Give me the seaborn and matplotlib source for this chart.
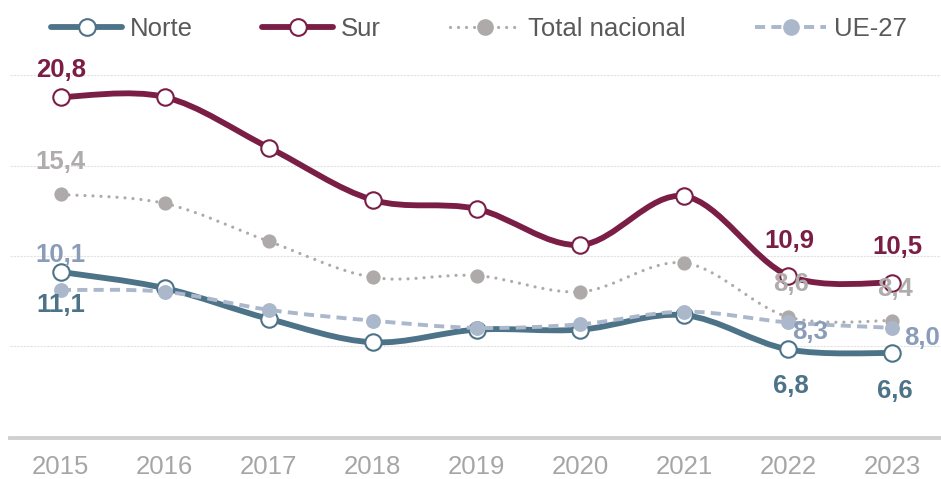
import numpy as np
import matplotlib
matplotlib.use("Agg")
import matplotlib.pyplot as plt
import seaborn as sns
from matplotlib.path import Path
from matplotlib.patches import PathPatch
from matplotlib.lines import Line2D

# ---------------- data ----------------
years = ["2015", "2016", "2017", "2018", "2019", "2020", "2021", "2022", "2023"]
norte = [11.1, 10.2, 8.5, 7.2, 7.9, 7.9, 8.7, 6.8, 6.6]
sur = [20.8, 20.8, 18.0, 15.1, 14.6, 12.6, 15.3, 10.9, 10.5]
total = [15.4, 14.9, 12.8, 10.8, 10.9, 10.0, 11.6, 8.6, 8.4]
ue27 = [10.1, 10.0, 9.0, 8.4, 8.0, 8.2, 8.9, 8.3, 8.0]
series_names = ["Norte", "Sur", "Total nacional", "UE-27"]

# ---------------- style ----------------
sns.set_theme(style="white")
plt.rcParams['font.family'] = ['Liberation Sans', 'DejaVu Sans']

C_NORTE = '#4d7389'
C_SUR = '#7a1e46'
C_TOTAL = '#aeaaaa'
C_UE = '#abb8cb'
C_UE_TXT = '#8a9cb8'
C_TOTAL_TXT = '#b0acac'
FS = 18.5

fig = plt.figure(figsize=(9.41, 4.79), dpi=100)
ax = fig.add_axes([10 / 941, 1 - 438 / 479, 931 / 941, (438 - 41) / 479])

x = np.arange(len(years))


def smooth_path(xs, ys):
    pts = np.column_stack([xs, ys]).astype(float)
    n = len(pts)
    verts = [pts[0]]
    codes = [Path.MOVETO]
    for i in range(n - 1):
        p0 = pts[i - 1] if i > 0 else pts[i]
        p1 = pts[i]
        p2 = pts[i + 1]
        p3 = pts[i + 2] if i + 2 < n else pts[i + 1]
        c1 = p1 + (p2 - p0) / 6.0
        c2 = p2 - (p3 - p1) / 6.0
        verts += [c1, c2, p2]
        codes += [Path.CURVE4] * 3
    return Path(verts, codes)


def draw_line(vals, color, lw, ls, z, cap='round'):
    patch = PathPatch(smooth_path(x, vals), fill=False, edgecolor=color,
                      lw=lw, linestyle=ls, zorder=z)
    patch.set_capstyle(cap)
    patch.set_joinstyle('round')
    ax.add_patch(patch)


# Norte
draw_line(norte, C_NORTE, 4.2, '-', 2)
sns.scatterplot(x=x, y=norte, ax=ax, s=140, color='white', edgecolor=C_NORTE,
                linewidth=1.5, zorder=2.5, legend=False)
# Sur
draw_line(sur, C_SUR, 4.2, '-', 3)
sns.scatterplot(x=x, y=sur, ax=ax, s=140, color='white', edgecolor=C_SUR,
                linewidth=1.5, zorder=3.5, legend=False)
# Total nacional
draw_line(total, C_TOTAL, 2.3, (0, (0.01, 2.5)), 4)
sns.scatterplot(x=x, y=total, ax=ax, s=105, color=C_TOTAL, edgecolor=C_TOTAL,
                linewidth=0, zorder=4.5, legend=False)
# UE-27
draw_line(ue27, C_UE, 2.8, (0, (2.6, 1.6)), 5, cap='butt')
sns.scatterplot(x=x, y=ue27, ax=ax, s=115, color=C_UE, edgecolor=C_UE,
                linewidth=0, zorder=5.5, legend=False)


def fmt(v):
    return f"{v:.1f}".replace('.', ',')


def label(i, vals, color, dx, dy):
    ax.annotate(fmt(vals[i]), xy=(i, vals[i]), xytext=(dx, dy),
                textcoords='offset pixels', ha='center', va='center',
                fontsize=FS, fontweight='bold', color=color, zorder=10)


label(0, sur, C_SUR, 0, 27)
label(0, total, C_TOTAL_TXT, 0, 32)
label(0, ue27, C_UE_TXT, 0, 35)
label(0, norte, C_NORTE, 0, -33)
label(7, sur, C_SUR, 1, 35)
label(8, sur, C_SUR, 5, 36)
label(7, total, C_TOTAL_TXT, 3, 33)
label(8, total, C_TOTAL_TXT, 3, 32)
label(7, ue27, C_UE_TXT, 22, -10)
label(8, ue27, C_UE_TXT, 30, -10)
label(7, norte, C_NORTE, 3, -37)
label(8, norte, C_NORTE, 3, -38)

# axes
ax.set_xlim(-0.49, 8.47)
ax.set_ylim(1.89, 23.91)
ax.set_yticks([7, 12, 17, 22])
ax.set_yticklabels([])
ax.grid(axis='y', color='#e2e2e2', lw=0.8, ls=(0, (2, 1)))
ax.grid(axis='x', visible=False)
ax.set_xticks(x)
ax.set_xticklabels(years)
ax.tick_params(axis='x', length=0, pad=12, labelsize=FS, labelcolor='#a6a6a6')
ax.tick_params(axis='y', length=0)
for s in ['top', 'left', 'right']:
    ax.spines[s].set_visible(False)
ax.spines['bottom'].set_color('#d0d0d0')
ax.spines['bottom'].set_linewidth(2.8)
ax.set_xlabel('')
ax.set_ylabel('')

# legend
handles = [
    Line2D([], [], color=C_NORTE, lw=4.2, marker='o', markersize=12,
           markerfacecolor='white', markeredgecolor=C_NORTE, markeredgewidth=1.5,
           solid_capstyle='round'),
    Line2D([], [], color=C_SUR, lw=4.2, marker='o', markersize=12,
           markerfacecolor='white', markeredgecolor=C_SUR, markeredgewidth=1.5,
           solid_capstyle='round'),
    Line2D([], [], color=C_TOTAL, lw=2.3, ls=(0, (0.01, 2.5)), marker='o', markersize=11,
           markerfacecolor=C_TOTAL, markeredgecolor=C_TOTAL, dash_capstyle='round'),
    Line2D([], [], color=C_UE, lw=2.8, ls=(0, (2.6, 1.6)), marker='o', markersize=11,
           markerfacecolor=C_UE, markeredgecolor=C_UE),
]
fig.legend(handles, series_names, loc='center', bbox_to_anchor=(0.509, 0.94),
           ncol=4, frameon=False, fontsize=FS, handlelength=2.75,
           handletextpad=0.3, columnspacing=2.7, labelcolor='#595959',
           numpoints=1)

fig.savefig('out.png', dpi=100)
